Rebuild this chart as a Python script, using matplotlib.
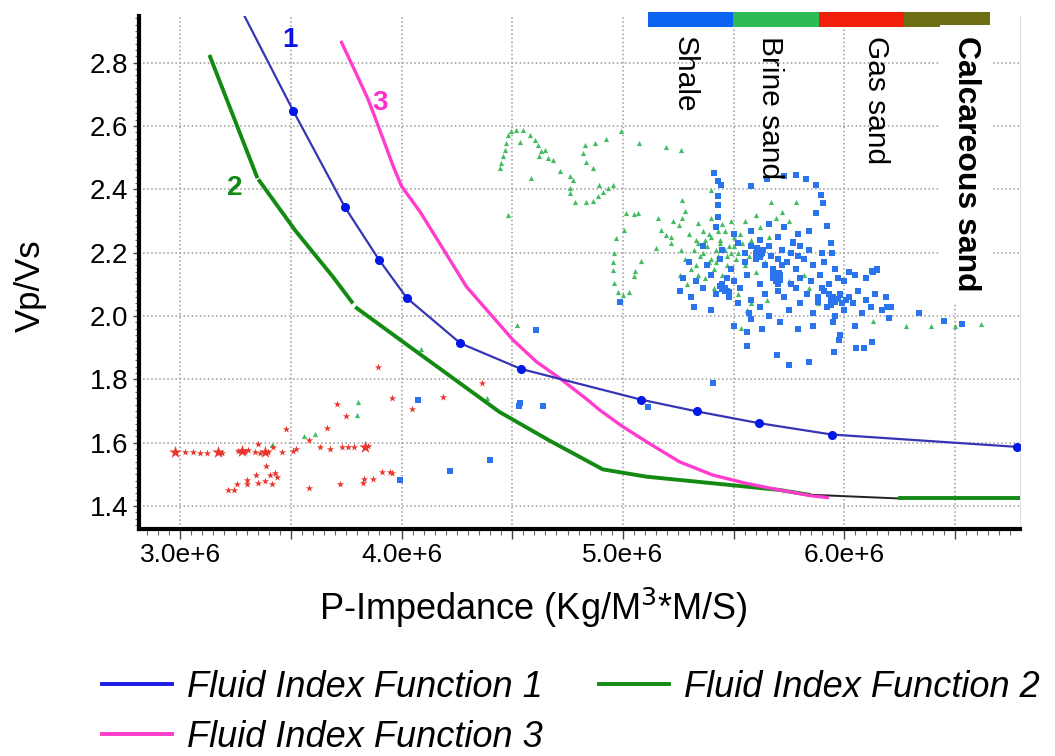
import numpy as np
import matplotlib
matplotlib.use("Agg")
import matplotlib.pyplot as plt
from matplotlib.ticker import MultipleLocator, FuncFormatter
from matplotlib.lines import Line2D

plt.rcParams['font.family'] = ['Liberation Sans', 'DejaVu Sans']

# ---------------- data (x in units of 1e6) ----------------
f1_x = [3.29, 3.51, 3.744, 3.898, 4.024, 4.266, 4.54, 5.083, 5.334, 5.614, 5.943, 6.78]
f1_y = [2.948, 2.649, 2.344, 2.178, 2.057, 1.914, 1.833, 1.736, 1.699, 1.662, 1.626, 1.587]

f2a_x = [3.135, 3.346]
f2a_y = [2.819, 2.441]
f2b_x = [3.358, 3.52, 3.69, 3.775]
f2b_y = [2.427, 2.27, 2.124, 2.045]
f2c_x = [3.798, 4.0, 4.443, 4.668, 4.909, 5.105, 5.406, 5.706, 5.84]
f2c_y = [2.025, 1.922, 1.697, 1.607, 1.516, 1.493, 1.472, 1.451, 1.436]
f2d_x = [5.84, 6.25]
f2d_y = [1.436, 1.424]
f2e_x = [6.25, 6.795]
f2e_y = [1.424, 1.424]

f3_x = [3.729, 3.789, 3.85, 3.918, 3.963, 4.0, 4.083, 4.195, 4.293, 4.398, 4.503, 4.609,
        4.714, 4.834, 4.894, 4.999, 5.105, 5.255, 5.406, 5.556, 5.706, 5.856, 5.924]
f3_y = [2.864, 2.775, 2.683, 2.557, 2.472, 2.41, 2.33, 2.204, 2.093, 2.009, 1.925, 1.856,
        1.804, 1.739, 1.704, 1.651, 1.604, 1.54, 1.498, 1.472, 1.451, 1.432, 1.427]

curve_labels = ['1', '2', '3']
curve_label_x = [3.496, 3.248, 3.902]
curve_label_y = [2.873, 2.405, 2.674]

facies = ['Shale', 'Brine sand', 'Gas sand', 'Calcareous sand']

shale_x = [5.42, 5.50, 5.58, 5.66, 5.73, 5.79, 5.84, 5.62, 5.70, 5.77,
           5.36, 5.45, 5.52, 5.58, 5.60, 5.61, 5.63, 5.66, 5.72, 5.76, 5.80, 5.84, 5.90, 5.55,
           5.30, 5.38, 5.44, 5.49, 5.55, 5.60, 5.64, 5.68, 5.70, 5.74, 5.78, 5.82, 5.86, 5.91, 5.96, 6.02, 5.67, 5.72,
           5.27, 5.33, 5.40, 5.45, 5.47, 5.50, 5.56, 5.62, 5.68, 5.69, 5.71, 5.76, 5.80, 5.85, 5.89, 5.93, 5.97, 6.00, 6.05, 6.10, 6.13, 6.15,
           5.26, 5.31, 5.36, 5.42, 5.46, 5.48, 5.53, 5.58, 5.64, 5.70, 5.73, 5.78, 5.83, 5.88, 5.91, 5.94, 5.98, 6.02, 6.06, 6.10, 6.14, 6.19,
           5.32, 5.40, 5.52, 5.57, 5.62, 5.66, 5.75, 5.80, 5.86, 5.92, 5.96, 6.00, 6.04, 6.08, 6.12, 6.17, 6.21,
           5.50, 5.56, 5.58, 5.63, 5.71, 5.79, 5.86, 5.95, 6.05, 5.98,
           5.61, 5.615, 5.625, 5.69, 5.695, 5.70, 5.46, 5.47, 5.45, 5.95, 5.96, 5.97, 5.99, 5.93,
           5.605, 5.62, 5.635, 5.68, 5.705, 5.71, 5.44, 5.48, 5.94, 5.98, 6.01, 5.88, 5.90, 5.77, 5.79,
           5.413, 5.428, 5.443, 5.428, 5.428, 5.428, 5.579, 5.652, 5.729, 5.782, 5.827, 5.872, 5.894, 5.902,
           5.872, 5.924, 5.94, 5.947, 5.977, 6.052, 6.09, 6.125,
           5.697, 5.751, 5.842, 5.955, 5.562, 6.338, 6.451, 6.532, 6.126, 6.148, 6.194, 6.203,
           4.609, 4.988, 4.075, 4.537, 4.531, 4.639, 4.218, 4.398, 3.992, 5.112, 5.408]
shale_y = [2.28, 2.26, 2.27, 2.29, 2.28, 2.26, 2.27, 2.24, 2.25, 2.23,
           2.22, 2.21, 2.23, 2.22, 2.20, 2.21, 2.20, 2.22, 2.21, 2.20, 2.22, 2.21, 2.20, 2.20,
           2.17, 2.16, 2.18, 2.15, 2.17, 2.18, 2.16, 2.15, 2.18, 2.17, 2.15, 2.18, 2.16, 2.17, 2.15, 2.14, 2.19, 2.16,
           2.12, 2.11, 2.13, 2.10, 2.12, 2.11, 2.13, 2.10, 2.12, 2.11, 2.13, 2.10, 2.12, 2.11, 2.13, 2.10, 2.12, 2.11, 2.13, 2.12, 2.14, 2.15,
           2.08, 2.06, 2.09, 2.07, 2.08, 2.06, 2.09, 2.05, 2.07, 2.08, 2.06, 2.09, 2.07, 2.06, 2.08, 2.05, 2.07, 2.06, 2.08, 2.05, 2.07, 2.06,
           2.03, 2.02, 2.04, 2.01, 2.03, 2.00, 2.02, 2.04, 2.01, 2.03, 2.00, 2.02, 2.04, 2.01, 2.03, 2.02, 2.03,
           1.97, 1.95, 1.99, 1.96, 1.98, 1.96, 1.97, 1.98, 1.97, 1.94,
           2.205, 2.19, 2.195, 2.13, 2.12, 2.10, 2.09, 2.08, 2.085, 2.06, 2.045, 2.055, 2.04, 2.07,
           2.215, 2.185, 2.21, 2.14, 2.135, 2.115, 2.095, 2.075, 2.035, 2.065, 2.05, 2.045, 2.09, 2.235, 2.19,
           2.452, 2.425, 2.415, 2.378, 2.351, 2.314, 2.411, 2.433, 2.441, 2.446, 2.433, 2.415, 2.383, 2.357,
           2.325, 2.283, 2.230, 2.199, 1.925, 1.899, 1.899, 1.919,
           1.877, 1.846, 1.856, 1.888, 1.904, 2.009, 1.983, 1.974, 2.141, 2.146, 2.03, 1.993,
           1.956, 2.045, 1.735, 1.725, 1.716, 1.716, 1.511, 1.544, 1.482, 1.714, 1.788]

brine_x = [4.443, 4.451, 4.458, 4.466, 4.474, 4.481, 4.496, 4.519, 4.549, 4.579, 4.601, 4.616, 4.632,
           4.646, 4.661, 4.684, 4.714, 4.759, 4.774, 4.759, 4.759, 4.782, 4.834, 4.864, 4.887, 4.909,
           4.932, 4.954, 4.894, 4.864, 4.834, 4.819, 4.827, 4.872, 4.922, 4.992, 5.075, 5.195, 5.263,
           4.586, 4.481, 4.62, 4.534,
           5.012, 5.052, 5.067, 4.97, 4.962, 4.954, 4.954, 4.962, 4.977, 4.999, 5.029, 5.052, 5.056,
           5.082, 5.003, 5.157, 5.173, 5.195, 5.218, 5.225, 5.252, 5.268, 5.282, 5.268, 5.15, 5.218,
           5.263, 5.338, 5.398,
           5.30, 5.33, 5.36, 5.38, 5.40, 5.42, 5.44, 5.46, 5.48, 5.50, 5.52, 5.54, 5.35, 5.39, 5.43,
           5.47, 5.51, 5.55, 5.58, 5.31, 5.28, 5.26, 5.29, 5.34, 5.37, 5.41, 5.45, 5.49, 5.53, 5.57,
           5.60, 5.64, 5.66, 5.62, 5.69, 5.72, 5.75, 5.78, 5.67, 5.60, 5.55, 5.43, 5.37, 5.32, 5.41,
           5.52, 5.58, 5.56, 5.65, 5.75, 5.84, 5.88, 5.82, 5.45, 5.49, 5.40, 5.534,
           5.34, 5.36, 5.40, 5.44, 5.47, 5.50, 5.39, 5.42, 5.46, 5.33,
           6.28, 6.39, 6.50, 6.62, 6.13,
           3.559, 3.609, 3.797, 3.804, 3.414, 4.086, 4.521, 4.386]
brine_y = [2.468, 2.483, 2.504, 2.525, 2.546, 2.573, 2.583, 2.588, 2.588, 2.573, 2.557, 2.541, 2.520,
           2.525, 2.499, 2.494, 2.457, 2.441, 2.430, 2.404, 2.388, 2.359, 2.359, 2.362, 2.378, 2.393,
           2.404, 2.415, 2.415, 2.467, 2.488, 2.515, 2.541, 2.548, 2.559, 2.583, 2.546, 2.533, 2.523,
           2.436, 2.32, 2.504, 2.551,
           2.325, 2.323, 2.325, 2.246, 2.199, 2.172, 2.146, 2.104, 2.077, 2.067, 2.077, 2.125, 2.141,
           2.175, 2.272, 2.309, 2.272, 2.257, 2.251, 2.299, 2.288, 2.309, 2.333, 2.367, 2.214, 2.23,
           2.209, 2.294, 2.399,
           2.26, 2.24, 2.27, 2.22, 2.25, 2.21, 2.24, 2.27, 2.22, 2.25, 2.20, 2.23, 2.19, 2.17, 2.19,
           2.16, 2.18, 2.16, 2.24, 2.15, 2.18, 2.13, 2.10, 2.13, 2.12, 2.15, 2.13, 2.20, 2.26, 2.19,
           2.14, 2.17, 2.25, 2.28, 2.31, 2.33, 2.30, 2.36, 2.36, 2.32, 2.30, 2.27, 2.24, 2.21, 2.09,
           2.07, 2.04, 2.02, 2.05, 2.11, 2.09, 2.04, 2.13, 2.29, 2.30, 2.31, 1.962,
           2.23, 2.20, 2.18, 2.23, 2.19, 2.22, 2.26, 2.17, 2.21, 2.16,
           1.97, 1.97, 1.97, 1.975, 1.985,
           1.621, 1.628, 1.688, 1.730, 1.593, 1.895, 1.972, 1.741]

gas_x = [2.977, 3.023, 3.06, 3.09, 3.12, 3.173, 3.188, 3.263, 3.278, 3.293, 3.308, 3.338, 3.361,
         3.398, 3.353, 3.421, 3.459, 3.477, 3.511, 3.523, 3.583, 3.631, 3.677, 3.662, 3.707, 3.749,
         3.732, 3.759, 3.785, 3.849, 3.895, 3.955, 3.388, 3.406, 3.343, 3.383, 3.353, 3.414, 3.428,
         3.436, 3.301, 3.301, 3.256, 3.241, 3.218, 3.583, 3.722, 3.827, 3.832, 3.872, 3.91, 3.947,
         3.955, 4.045, 4.188, 4.365]
gas_y = [1.57, 1.57, 1.57, 1.569, 1.569, 1.57, 1.567, 1.574, 1.577, 1.572, 1.577, 1.572, 1.567,
         1.572, 1.596, 1.588, 1.570, 1.643, 1.575, 1.579, 1.609, 1.585, 1.579, 1.646, 1.723, 1.683,
         1.588, 1.586, 1.588, 1.590, 1.840, 1.74, 1.527, 1.498, 1.498, 1.479, 1.472, 1.469, 1.504,
         1.493, 1.482, 1.469, 1.469, 1.451, 1.451, 1.456, 1.469, 1.472, 1.484, 1.484, 1.509, 1.509,
         1.504, 1.706, 1.746, 1.788]
gas_big_x = [3.383, 3.834, 2.977, 3.173, 3.278]
gas_big_y = [1.57, 1.588, 1.57, 1.57, 1.575]

# ---------------- figure ----------------
fig = plt.figure(figsize=(10.55, 7.56), dpi=100)
ax = fig.add_axes([0.132, 0.300, 0.835, 0.679])

c_blue_pts = '#2a74ec'
c_green_pts = '#45bc62'
c_red_pts = '#e8372d'

ax.scatter(np.array(brine_x) * 1e6, brine_y, s=14, marker='^', color=c_green_pts, lw=0, zorder=2)
ax.scatter(np.array(shale_x) * 1e6, shale_y, s=20, marker='s', color=c_blue_pts, lw=0, zorder=2)
ax.scatter(np.array(gas_x) * 1e6, gas_y, s=30, marker='*', color=c_red_pts, lw=0, zorder=2)
ax.scatter(np.array(gas_big_x) * 1e6, gas_big_y, s=90, marker='*', color=c_red_pts, lw=0, zorder=2)

ax.plot(np.array(f1_x) * 1e6, f1_y, color='#3535b5', lw=1.6, zorder=4,
        marker='o', markersize=5.5, markerfacecolor='#0018e8', markeredgecolor='#0018e8',
        markevery=slice(1, None))
ax.plot(np.array(f2a_x) * 1e6, f2a_y, color='#138a13', lw=2.8, zorder=3)
ax.plot(np.array(f2b_x) * 1e6, f2b_y, color='#138a13', lw=2.8, zorder=3)
ax.plot(np.array(f2c_x) * 1e6, f2c_y, color='#138a13', lw=2.8, zorder=3)
ax.plot(np.array(f2d_x) * 1e6, f2d_y, color='#222222', lw=1.4, zorder=3)
ax.plot(np.array(f2e_x) * 1e6, f2e_y, color='#138a13', lw=2.8, zorder=3)
ax.plot(np.array(f3_x) * 1e6, f3_y, color='#ff3ccd', lw=2.4, zorder=3)

label_colors = ['#0a14e6', '#138a13', '#ff2ccc']
for t, x, y, c in zip(curve_labels, curve_label_x, curve_label_y, label_colors):
    ax.text(x * 1e6, y, t, color=c, fontsize=20, fontweight='bold', ha='center', va='center', zorder=5)

ax.set_xlim(2.815e6, 6.795e6)
ax.set_ylim(1.327, 2.948)

ax.xaxis.set_major_locator(MultipleLocator(0.5e6))
ax.xaxis.set_minor_locator(MultipleLocator(0.05e6))
ax.xaxis.set_major_formatter(FuncFormatter(
    lambda v, p: '%.1fe+6' % (v / 1e6) if abs(v / 1e6 - round(v / 1e6)) < 1e-6 else ''))
ax.yaxis.set_major_locator(MultipleLocator(0.2))
ax.yaxis.set_minor_locator(MultipleLocator(0.02))
ax.yaxis.set_major_formatter(FuncFormatter(lambda v, p: '%.1f' % v))

ax.tick_params(axis='x', which='major', length=7, width=1, labelsize=19, pad=3, color='#444444')
ax.tick_params(axis='x', which='minor', length=4, width=0.8, color='#666666')
ax.tick_params(axis='y', which='major', length=4, width=1, labelsize=20, pad=4, color='#444444')
ax.tick_params(axis='y', which='minor', length=3, width=0.8, color='#666666')

ax.grid(True, which='major', linestyle=':', color='#9a9a9a', lw=1.1)
ax.set_axisbelow(True)

for s in ['left', 'bottom']:
    ax.spines[s].set_linewidth(3)
    ax.spines[s].set_color('black')
ax.spines['top'].set_visible(False)
ax.spines['right'].set_color('#e0e0e0')
ax.spines['right'].set_linewidth(0.8)

ax.set_xlabel('P-Impedance (Kg/M$^3$*M/S)', fontsize=26)
ax.xaxis.set_label_coords(0.447, -0.11)
ax.xaxis.label.set_va('top')
ax.set_ylabel('Vp/Vs', fontsize=25)
ax.yaxis.set_label_coords(-0.124, 0.475)
ax.yaxis.label.set_va('center')

# facies colour bar (top right)
cax = fig.add_axes([0.614, 0.9645, 0.324, 0.0195])
bar_colors = ['#0a64f0', '#2dbb55', '#f01e0a', '#6e6e14']
cax.bar(range(len(facies)), [1] * len(facies), width=1.0, color=bar_colors, align='edge')
cax.set_xlim(0, len(facies))
cax.set_ylim(0, 1)
cax.axis('off')

fac_x = [685, 770, 876, 966]
for i, name in enumerate(facies):
    bold = name == 'Calcareous sand'
    fig.text(fac_x[i] / 1055, 1 - 36 / 756, name, rotation=-90, ha='center', va='top',
             fontsize=23 if bold else 21.5, fontweight='bold' if bold else 'normal',
             bbox=dict(facecolor='white', edgecolor='none', pad=8) if bold else None)

# legend is column-major: functions 1 and 3 in the first column, 2 in the second
handles = [Line2D([], [], color='#1a1ae6', lw=2.8),
           Line2D([], [], color='#ff3ccd', lw=2.8),
           Line2D([], [], color='#138a13', lw=2.8)]
fig.legend(handles, ['Fluid Index Function 1', 'Fluid Index Function 3', 'Fluid Index Function 2'],
           ncol=2, loc='upper left', bbox_to_anchor=(0.066, 0.157), frameon=False,
           prop={'size': 26, 'style': 'italic'}, handlelength=1.94, handletextpad=0.42,
           columnspacing=1.55, labelspacing=0.42)

fig.savefig('out.png', dpi=100)
